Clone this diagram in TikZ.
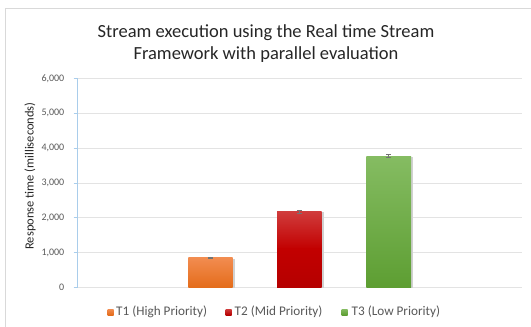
\documentclass[tikz,border=0pt]{standalone}
\usepackage{fontspec}
\setmainfont{Carlito}
\definecolor{gridgray}{HTML}{E3E3E3}
\definecolor{framegray}{HTML}{D9D9D9}
\definecolor{axisblue}{HTML}{A9CDEB}
\definecolor{labelgray}{HTML}{595959}
\definecolor{titlegray}{HTML}{262626}
\definecolor{orangetop}{HTML}{F28C50}
\definecolor{orangebot}{HTML}{E46C1A}
\definecolor{redtop}{HTML}{D03C3C}
\definecolor{redmid}{HTML}{C20000}
\definecolor{redbot}{HTML}{B50000}
\definecolor{greentop}{HTML}{85BC62}
\definecolor{greenbot}{HTML}{5D9E32}
\tikzset{
  grid line/.style={draw=gridgray, line width=0.9pt},
  axis line/.style={draw=axisblue, line width=0.9pt},
  tick label/.style={anchor=east, font=\fontsize{10}{12}\selectfont, text=labelgray, inner sep=0pt},
  legend text/.style={anchor=west, font=\fontsize{13.2}{15}\selectfont, text=labelgray, inner sep=0pt},
  legend key/.style={minimum size=6pt, inner sep=0pt},
  bar shadow/.style={fill=black!18},
  errbar/.style={draw=black!55, line width=0.5pt},
}
\begin{document}
\begin{tikzpicture}[x=1pt, y=-1pt]
\useasboundingbox (0,0) rectangle (531,327);
\fill[white] (0,0) rectangle (531,327);
% chart area frame (runs off the right and bottom)
\draw[draw=framegray, line width=0.8pt] (531,8) -- (5.5,8) -- (5.5,327);
% title
\node[font=\fontsize{18.5}{21.5}\selectfont, text=titlegray, align=center] (title) at (266,43.5)
  {Stream execution using the Real time Stream\\Framework with parallel evaluation};
% horizontal grid lines, ticks and tick labels; y = 287.7 - 0.0349 v
\foreach \v/\lab in {0/0,1000/{1,000},2000/{2,000},3000/{3,000},4000/{4,000},5000/{5,000},6000/{6,000}}{
  \pgfmathsetmacro{\py}{287.7-0.0349*\v}
  \draw[grid line] (77,\py) -- (522,\py);
  \draw[axis line] (73.5,\py) -- (77,\py);
  \node[tick label] at (64.5,\py) {\lab};
}
% vertical axis
\coordinate (axtop) at (77,78.3);
\coordinate (axbot) at (77,287.7);
\draw[axis line] (axtop) -- (axbot);
% axis title
\node[rotate=90, font=\fontsize{12.5}{14}\selectfont, text=titlegray] (ytitle) at (30,176) {Response time (milliseconds)};
% bars: x0, x1, top value
\def\barT#1#2#3#4#5{%
  \pgfmathsetmacro{\py}{287.7-0.0349*#3}
  \fill[bar shadow] (#1+1.2,\py+1) rectangle (#2+1.8,287.7);
  \shade[top color=#4, bottom color=#5] (#1,\py) rectangle (#2,287.7);
}
\barT{188.3}{232.7}{860}{orangetop}{orangebot}
\pgfmathsetmacro{\pya}{287.7-0.0349*2185}
\fill[bar shadow] (278.2,\pya+1) rectangle (323.5,287.7);
\shade[top color=redtop, bottom color=redmid] (277,\pya) rectangle (321.7,249);
\shade[top color=redmid, bottom color=redbot] (277,248.9) rectangle (321.7,287.7);
\barT{366.3}{411}{3770}{greentop}{greenbot}
% error bars
\foreach \cx/\v/\e in {210.5/860/25, 299.3/2185/40, 388.7/3770/45}{
  \pgfmathsetmacro{\ya}{287.7-0.0349*(\v+\e)}
  \pgfmathsetmacro{\yb}{287.7-0.0349*(\v-\e)}
  \draw[errbar] (\cx,\ya) -- (\cx,\yb);
  \draw[errbar] (\cx-2.5,\ya) -- (\cx+2.5,\ya);
  \draw[errbar] (\cx-2.5,\yb) -- (\cx+2.5,\yb);
}
% legend
\node[legend key, shade, top color=orangetop, bottom color=orangebot] (k1) at (110.5,312) {};
\node[legend text] (l1) at (116,312) {T1 (High Priority)};
\node[legend key, shade, top color=redtop, bottom color=redbot] (k2) at (228.7,312) {};
\node[legend text] (l2) at (234.5,312) {T2 (Mid Priority)};
\node[legend key, shade, top color=greentop, bottom color=greenbot] (k3) at (344.7,312) {};
\node[legend text] (l3) at (351.5,312) {T3 (Low Priority)};
\end{tikzpicture}
\end{document}
